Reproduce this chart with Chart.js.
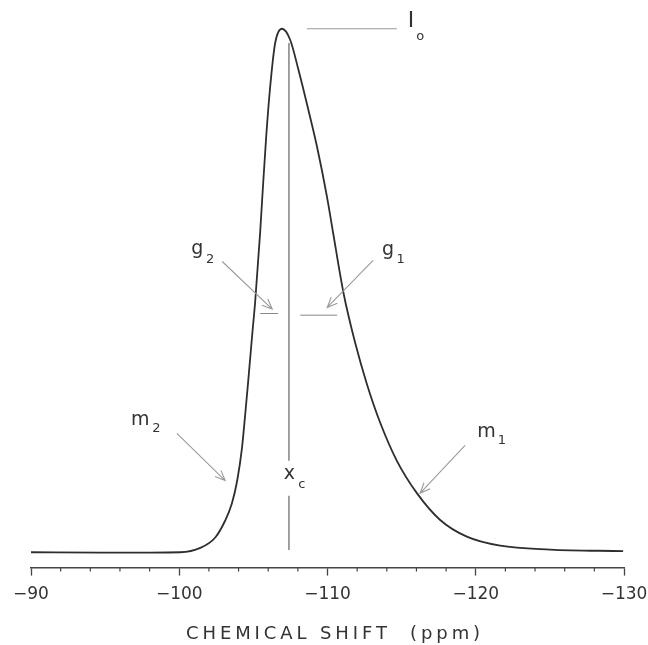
<!DOCTYPE html>
<html>
<head>
<meta charset="utf-8">
<script src="https://cdn.jsdelivr.net/npm/chart.js@4/dist/chart.umd.min.js"></script>
<style>
  html, body { margin: 0; padding: 0; background: #fff; }
  #wrap { width: 648px; height: 645px; }
</style>
</head>
<body>
<div id="wrap"><canvas id="nmrChart" width="648" height="645"></canvas></div>
<script>
//-----------------------------------------------------
// 29Si NMR peak with fit parameters (I_o, g1/g2, m1/m2, x_c)
//-----------------------------------------------------

// spectrum (ppm, relative intensity)
const shiftPpm = [
    -90.0, -94.7, -98.05, -100.07, -101.42, -102.43, -103.10, -103.55, -103.91,
    -104.23, -104.45, -104.65, -104.94, -105.12, -105.46, -105.61, -105.87, -106.14,
    -106.47, -106.93, -107.48, -108.04, -108.61, -109.29, -109.96, -110.38, -111.09,
    -111.87, -112.66, -113.55, -114.68, -116.03, -117.60, -119.40, -121.65, -125.02, -129.94
];
const intensity = [
    2.8, 2.75, 2.75, 2.8, 3.6, 5.5, 8.6, 11.7, 15.9,
    21.8, 28.0, 34.0, 43.1, 48.5, 61.3, 68.0, 78.9, 88.0,
    95.8, 98.4, 96.4, 90.9, 84.7, 76.9, 67.8, 61.1, 50.0,
    41.0, 33.5, 26.5, 19.5, 13.6, 8.7, 5.65, 4.0, 3.3, 3.0
];

// x axis
const axisMin = -130;
const axisMax = -90;
const majorStep = 10;
const minorStep = 2;
const axisTitle = "CHEMICAL SHIFT  (ppm)";

// centre line x_c (broken where its label sits)
const xcShift = -107.4;
const xcLevels = [95.8, 19.5, null, 13.1, 3.2];

// I_o level marker and g1/g2 half-height markers
const ioShift = [-108.61, -114.68];
const ioLevel = 98.4;
const g2Shift = [-105.46, -106.67];
const g2Level = 46.4;
const g1Shift = [-108.16, -110.65];
const g1Level = 46.1;

// arrows [ppm, intensity]: g2, g1, m2, m1
const arrowFrom = [[-102.90, 55.9], [-113.08, 56.1], [-99.84, 24.5], [-119.28, 22.3]];
const arrowTo   = [[-106.27, 47.2], [-109.98, 47.5], [-103.10, 15.9], [-116.25, 13.6]];

// labels: main letter, subscript, anchor [ppm, intensity], subscript anchor
const labelMain = ["I", "g", "g", "m", "m", "x"];
const labelSub  = ["o", "2", "1", "2", "1", "c"];
const labelAt   = [[-115.63, 99.8], [-101.21, 58.2], [-114.09, 58.0], [-97.37, 27.0], [-120.73, 24.7], [-107.43, 17.1]];
const subAt     = [[-116.25, 97.0], [-102.08, 56.3], [-114.93, 56.2], [-98.45, 25.3], [-121.76, 23.1], [-108.27, 15.2]];

const FONT = "'DejaVu Sans', 'Liberation Sans', sans-serif";

function pairs(xs, y) {
    return xs.map(v => ({ x: v, y: y }));
}

const extras = {
    id: 'extras',
    afterDatasetsDraw(chart) {
        const ctx = chart.ctx;
        const xs = chart.scales.x;
        const ys = chart.scales.y;
        const px = v => xs.getPixelForValue(v);
        const py = v => ys.getPixelForValue(v);

        ctx.save();

        // arrows
        ctx.strokeStyle = '#9a9a9a';
        ctx.lineWidth = 1.1;
        arrowFrom.forEach((a, i) => {
            const b = arrowTo[i];
            const x0 = px(a[0]), y0 = py(a[1]);
            const x1 = px(b[0]), y1 = py(b[1]);
            const ang = Math.atan2(y1 - y0, x1 - x0);
            const head = 11;
            ctx.beginPath();
            ctx.moveTo(x0, y0);
            ctx.lineTo(x1, y1);
            ctx.moveTo(x1 - head * Math.cos(ang - 0.4), y1 - head * Math.sin(ang - 0.4));
            ctx.lineTo(x1, y1);
            ctx.lineTo(x1 - head * Math.cos(ang + 0.4), y1 - head * Math.sin(ang + 0.4));
            ctx.stroke();
        });

        // labels
        ctx.fillStyle = '#333';
        ctx.textAlign = 'center';
        ctx.textBaseline = 'middle';
        labelMain.forEach((t, i) => {
            ctx.font = (i === 0 ? '22px ' : '19px ') + FONT;
            ctx.fillText(t, px(labelAt[i][0]), py(labelAt[i][1]));
            ctx.font = '13px ' + FONT;
            ctx.fillText(labelSub[i], px(subAt[i][0]), py(subAt[i][1]));
        });

        // minor ticks
        ctx.strokeStyle = '#444';
        ctx.lineWidth = 1.2;
        for (let v = axisMax; v >= axisMin; v -= minorStep) {
            if (v % majorStep === 0) continue;
            const x = px(v);
            ctx.beginPath();
            ctx.moveTo(x, xs.top);
            ctx.lineTo(x, xs.top + 4);
            ctx.stroke();
        }

        // axis title, spaced out like the plotter lettering
        ctx.font = '18px ' + FONT;
        ctx.fillStyle = '#333';
        if ('letterSpacing' in ctx) ctx.letterSpacing = '3.9px';
        ctx.fillText(axisTitle, 335, 634);
        ctx.restore();
    }
};

const curve = shiftPpm.map((s, i) => ({ x: s, y: intensity[i] }));

new Chart(document.getElementById('nmrChart').getContext('2d'), {
    type: 'line',
    data: {
        datasets: [
            {
                data: curve,
                borderColor: '#2e2e2e',
                borderWidth: 1.8,
                cubicInterpolationMode: 'monotone',
                pointRadius: 0
            },
            {
                data: xcLevels.map(v => ({ x: xcShift, y: v })),
                borderColor: '#555',
                borderWidth: 1.1,
                pointRadius: 0,
                spanGaps: false
            },
            { data: pairs(ioShift, ioLevel), borderColor: '#999', borderWidth: 1, pointRadius: 0 },
            { data: pairs(g2Shift, g2Level), borderColor: '#888', borderWidth: 1, pointRadius: 0 },
            { data: pairs(g1Shift, g1Level), borderColor: '#888', borderWidth: 1, pointRadius: 0 }
        ]
    },
    options: {
        responsive: false,
        animation: false,
        layout: { padding: { top: 20, left: 31, right: 24, bottom: 31 } },
        plugins: { legend: { display: false }, tooltip: { enabled: false } },
        scales: {
            x: {
                type: 'linear',
                min: axisMin,
                max: axisMax,
                reverse: true,
                afterFit: (scale) => { scale.paddingLeft = 0; scale.paddingRight = 0; },
                border: { color: '#444', width: 1.4 },
                grid: {
                    drawOnChartArea: false,
                    tickLength: 8,
                    tickWidth: 1.3,
                    tickColor: (c) => (c.tick && c.tick.value % majorStep === 0) ? '#444' : 'rgba(0,0,0,0)'
                },
                ticks: {
                    stepSize: minorStep,
                    autoSkip: false,
                    maxRotation: 0,
                    padding: 9,
                    color: '#333',
                    font: { family: FONT, size: 17 },
                    callback: (v) => (v % majorStep === 0) ? '\u2212' + Math.abs(v) : ''
                }
            },
            y: { display: false, min: 0, max: 100 }
        }
    },
    plugins: [extras]
});
</script>
</body>
</html>
